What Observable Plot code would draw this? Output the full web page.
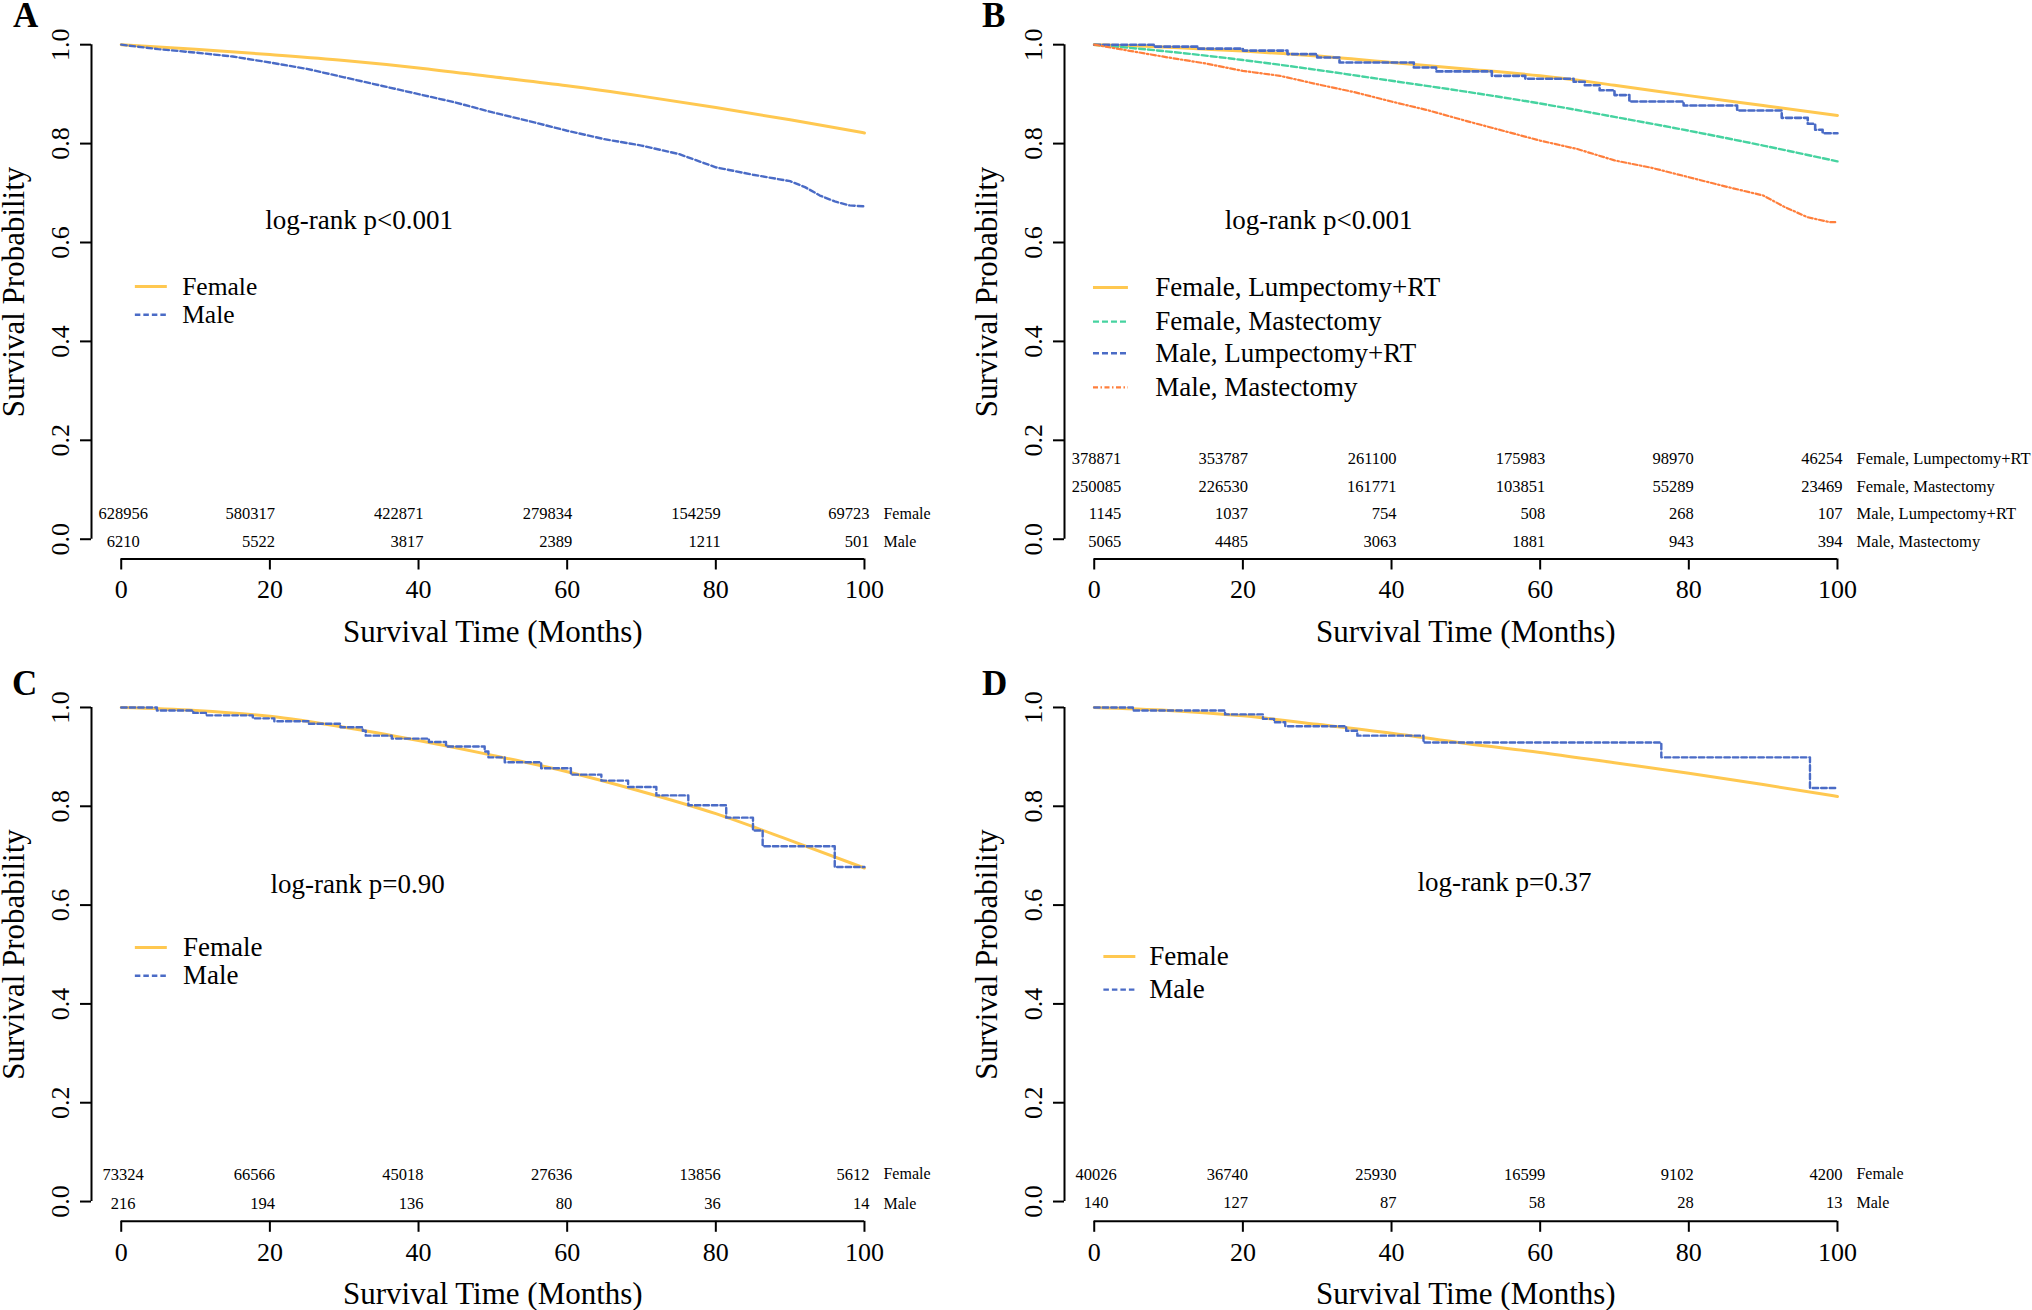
<!DOCTYPE html>
<html>
<head>
<meta charset="utf-8">
<script src="https://cdn.jsdelivr.net/npm/d3@7"></script>
<script src="https://cdn.jsdelivr.net/npm/@observablehq/plot@0.6"></script>
<style>
  html, body { margin: 0; padding: 0; background: #fff; }
  body { width: 2032px; height: 1310px; position: relative; overflow: hidden;
         font-family: "Liberation Serif", "Times New Roman", serif; color: #000; }
  .panel { position: absolute; }
  .tag { position: absolute; font-weight: bold; font-size: 35px; line-height: 35px;
         font-family: "Liberation Serif", "Times New Roman", serif; }
</style>
</head>
<body>
<script>
// ---------------- shared axes ----------------
const xTicks = [0, 20, 40, 60, 80, 100];
const yTicks = [0, 0.2, 0.4, 0.6, 0.8, 1.0];
const riskTimes = [0, 20, 40, 60, 80, 100];
const xDomain = [-4, 104];
const yDomain = [-0.04, 1.04];

// ---------------- Panel A: all patients, by sex ----------------
const aFemaleTime = [0, 10, 20, 30, 40, 50, 60, 70, 80, 90, 100];
const aFemaleSurv = [1.0, 0.991, 0.980, 0.968, 0.953, 0.935, 0.917, 0.896, 0.873, 0.848, 0.8215];
const aMaleTime = [0, 5, 10, 15, 20, 25, 30, 35, 40, 45, 50, 55, 60, 65, 70, 75, 80, 85, 90, 92, 94, 96, 98, 100];
const aMaleSurv = [1.0, 0.991, 0.984, 0.976, 0.964, 0.951, 0.934, 0.917, 0.900, 0.883, 0.863, 0.845, 0.826, 0.809, 0.796, 0.779, 0.752, 0.737, 0.724, 0.712, 0.695, 0.683, 0.675, 0.673];
const aRiskFemale = [628956, 580317, 422871, 279834, 154259, 69723];
const aRiskMale = [6210, 5522, 3817, 2389, 1211, 501];

// ---------------- Panel B: by sex and surgery ----------------
const bFemLumpTime = [0, 10, 20, 30, 40, 50, 60, 70, 80, 90, 100];
const bFemLumpSurv = [1.0, 0.995, 0.987, 0.977, 0.964, 0.951, 0.937, 0.918, 0.897, 0.877, 0.857];
const bFemMastTime = [0, 10, 20, 30, 40, 50, 60, 70, 80, 90, 100];
const bFemMastSurv = [1.0, 0.986, 0.969, 0.949, 0.927, 0.905, 0.881, 0.854, 0.826, 0.796, 0.764];
const bMaleLumpTime = [0, 8, 14, 20, 26, 30, 33, 43, 46, 53.5, 58, 64.5, 66, 68, 70, 72, 79.3, 86.5, 92.5, 96, 97, 98, 100];
const bMaleLumpSurv = [1.0, 0.996, 0.992, 0.988, 0.981, 0.974, 0.964, 0.954, 0.946, 0.937, 0.931, 0.925, 0.918, 0.908, 0.898, 0.885, 0.877, 0.867, 0.852, 0.840, 0.828, 0.821, 0.821];
const bMaleMastTime = [0, 5, 10, 15, 20, 25, 30, 35, 40, 45, 50, 55, 60, 65, 70, 75, 80, 85, 90, 93, 96, 99, 100];
const bMaleMastSurv = [1.0, 0.987, 0.974, 0.962, 0.947, 0.937, 0.920, 0.904, 0.885, 0.867, 0.846, 0.826, 0.806, 0.789, 0.766, 0.751, 0.732, 0.713, 0.695, 0.671, 0.651, 0.641, 0.641];
const bRiskFemLump = [378871, 353787, 261100, 175983, 98970, 46254];
const bRiskFemMast = [250085, 226530, 161771, 103851, 55289, 23469];
const bRiskMaleLump = [1145, 1037, 754, 508, 268, 107];
const bRiskMaleMast = [5065, 4485, 3063, 1881, 943, 394];

// ---------------- Panel C ----------------
const cFemaleTime = [0, 10, 20, 30, 40, 50, 60, 70, 80, 90, 100];
const cFemaleSurv = [1.0, 0.994, 0.982, 0.960, 0.933, 0.903, 0.870, 0.830, 0.785, 0.731, 0.675];
const cMaleTime = [0, 4.8, 9.7, 11.4, 17.7, 20.6, 25.2, 29.5, 32.5, 32.9, 36.4, 41.4, 43.7, 48.9, 49.4, 51.6, 56.5, 60.5, 64.6, 68.2, 72.0, 76.3, 81.4, 85.0, 86.3, 96.0, 100];
const cMaleSurv = [1.0, 0.994, 0.989, 0.984, 0.978, 0.972, 0.967, 0.960, 0.953, 0.943, 0.937, 0.930, 0.921, 0.911, 0.899, 0.889, 0.877, 0.864, 0.852, 0.839, 0.822, 0.802, 0.777, 0.751, 0.719, 0.677, 0.677];
const cRiskFemale = [73324, 66566, 45018, 27636, 13856, 5612];
const cRiskMale = [216, 194, 136, 80, 36, 14];

// ---------------- Panel D ----------------
const dFemaleTime = [0, 10, 20, 30, 40, 50, 60, 70, 80, 90, 100];
const dFemaleSurv = [1.0, 0.994, 0.983, 0.966, 0.948, 0.927, 0.909, 0.888, 0.867, 0.844, 0.820];
const dMaleTime = [0, 5.2, 17.6, 22.7, 24.2, 25.7, 33.9, 35.4, 44.3, 76.3, 96.3, 100];
const dMaleSurv = [1.0, 0.994, 0.986, 0.977, 0.970, 0.962, 0.953, 0.943, 0.929, 0.899, 0.837, 0.837];
const dRiskFemale = [40026, 36740, 25930, 16599, 9102, 4200];
const dRiskMale = [140, 127, 87, 58, 28, 13];

// ---------------- styles ----------------
const STYLE = {
  female:   {stroke: "#FFC850", strokeWidth: 3,   dash: null,            curve: "monotone-x"},
  male:     {stroke: "#4A6BC6", strokeWidth: 2.4, dash: "5.5,3",         curve: "linear"},
  maleStep: {stroke: "#4A6BC6", strokeWidth: 2.4, dash: "5.5,3",         curve: "step-after"},
  femMast:  {stroke: "#46D3A0", strokeWidth: 2.4, dash: "6,3",           curve: "monotone-x"},
  maleLump: {stroke: "#4A6BC6", strokeWidth: 2.6, dash: "6,3",           curve: "step-after"},
  maleMast: {stroke: "#FF7F3C", strokeWidth: 2.2, dash: "5,2.5,1.5,2.5", curve: "linear"}
};

function rows(times, surv) { return times.map((t, i) => ({t, s: surv[i]})); }

function makePanel(cfg) {
  const marks = [];
  // axis lines (R style: detached)
  marks.push(Plot.ruleY([yDomain[0]], {x1: 0, x2: 100, stroke: "#000", strokeWidth: 2}));
  marks.push(Plot.ruleX([xDomain[0]], {y1: 0, y2: 1, stroke: "#000", strokeWidth: 2}));
  marks.push(Plot.axisX({ticks: xTicks, tickSize: 11, tickPadding: 10, fontSize: 26, label: null, strokeWidth: 2}));
  marks.push(Plot.axisY({ticks: yTicks, tickSize: 11, tickFormat: () => "", label: null, strokeWidth: 2}));
  marks.push(Plot.text(yTicks, {y: d => d, text: d => d.toFixed(1), frameAnchor: "left", dx: -31,
    rotate: -90, textAnchor: "middle", lineAnchor: "middle", fontSize: 26}));
  // axis titles
  marks.push(Plot.text(["Survival Time (Months)"], {x: 50, frameAnchor: "bottom", dy: 73,
    textAnchor: "middle", lineAnchor: "middle", fontSize: 31}));
  marks.push(Plot.text(["Survival Probability"], {y: 0.5, frameAnchor: "left", dx: -77, rotate: -90,
    textAnchor: "middle", lineAnchor: "middle", fontSize: 31}));
  // curves
  for (const s of cfg.series) {
    const st = STYLE[s.style];
    marks.push(Plot.line(rows(s.time, s.surv), {
      x: "t", y: "s", stroke: st.stroke, strokeWidth: st.strokeWidth,
      strokeDasharray: st.dash, curve: st.curve
    }));
  }
  // log-rank annotation
  marks.push(Plot.text([cfg.logrank], {x: cfg.logrankX, y: cfg.logrankY, fontSize: 27}));
  // legend
  cfg.series.forEach((s, i) => {
    const st = STYLE[s.style];
    const ly = cfg.legendY[i];
    marks.push(Plot.ruleY([ly], {x1: cfg.legendX1, x2: cfg.legendX2, stroke: st.stroke,
      strokeWidth: st.strokeWidth, strokeDasharray: st.dash}));
    marks.push(Plot.text([s.name], {x: cfg.legendTextX, y: ly, textAnchor: "start", fontSize: cfg.legendFont}));
  });
  // numbers at risk
  cfg.risk.forEach((r, i) => {
    const ry = cfg.riskY[i];
    marks.push(Plot.text([r.counts[0]], {x: 0, y: ry, text: d => String(d), textAnchor: cfg.firstAnchor, dx: cfg.firstDx, fontSize: 16.5}));
    marks.push(Plot.text(r.counts.slice(1).map((n, k) => ({t: riskTimes[k + 1], n})),
      {x: "t", y: ry, text: d => String(d.n), textAnchor: "end", dx: 5, fontSize: 16.5}));
    marks.push(Plot.text([r.label], {x: 100, y: ry, textAnchor: "start", dx: 19, fontSize: cfg.riskLabelFont}));
  });

  const svg = Plot.plot({
    width: cfg.width, height: cfg.height,
    marginLeft: cfg.marginLeft, marginRight: cfg.marginRight,
    marginTop: cfg.marginTop, marginBottom: cfg.marginBottom,
    x: {domain: xDomain, label: null},
    y: {domain: yDomain, label: null},
    style: {fontFamily: "'Liberation Serif', 'Times New Roman', serif", fontSize: "16px",
            background: "transparent", color: "#000", overflow: "visible"},
    marks
  });
  const div = document.createElement("div");
  div.className = "panel";
  div.style.left = cfg.left + "px";
  div.style.top = cfg.top + "px";
  div.appendChild(svg);
  document.body.appendChild(div);

  const tag = document.createElement("div");
  tag.className = "tag";
  tag.textContent = cfg.tag;
  tag.style.left = cfg.tagX + "px";
  tag.style.top = cfg.tagY + "px";
  document.body.appendChild(tag);
}

const leftGeom  = {left: 0,   width: 1000, marginLeft: 91, marginRight: 106.3, firstAnchor: "middle", firstDx: 2};
const rightGeom = {left: 970, width: 1062, marginLeft: 94, marginRight: 165.3};
const topGeom   = {top: 0,   height: 655, marginTop: 24.4, marginBottom: 96.5};
const botGeom   = {top: 655, height: 655, marginTop: 32.2, marginBottom: 89.2};

makePanel({
  ...leftGeom, ...topGeom, tag: "A", tagX: 13, tagY: -2,
  series: [
    {name: "Female", style: "female", time: aFemaleTime, surv: aFemaleSurv},
    {name: "Male", style: "male", time: aMaleTime, surv: aMaleSurv}
  ],
  logrank: "log-rank p<0.001", logrankX: 32, logrankY: 0.645,
  legendX1: 1.9, legendX2: 6.2, legendTextX: 8.2, legendY: [0.511, 0.454], legendFont: 25.5,
  risk: [{label: "Female", counts: aRiskFemale}, {label: "Male", counts: aRiskMale}],
  riskY: [0.052, -0.005], riskLabelFont: 16
});

makePanel({
  ...rightGeom, ...topGeom, tag: "B", tagX: 982, tagY: -2,
  firstAnchor: "end", firstDx: 27,
  series: [
    {name: "Female, Lumpectomy+RT", style: "female", time: bFemLumpTime, surv: bFemLumpSurv},
    {name: "Female, Mastectomy", style: "femMast", time: bFemMastTime, surv: bFemMastSurv},
    {name: "Male, Lumpectomy+RT", style: "maleLump", time: bMaleLumpTime, surv: bMaleLumpSurv},
    {name: "Male, Mastectomy", style: "maleMast", time: bMaleMastTime, surv: bMaleMastSurv}
  ],
  logrank: "log-rank p<0.001", logrankX: 30.2, logrankY: 0.645,
  legendX1: -0.1, legendX2: 4.6, legendTextX: 8.2, legendY: [0.509, 0.440, 0.376, 0.307], legendFont: 27,
  risk: [
    {label: "Female, Lumpectomy+RT", counts: bRiskFemLump},
    {label: "Female, Mastectomy", counts: bRiskFemMast},
    {label: "Male, Lumpectomy+RT", counts: bRiskMaleLump},
    {label: "Male, Mastectomy", counts: bRiskMaleMast}
  ],
  riskY: [0.163, 0.107, 0.052, -0.005], riskLabelFont: 16.5
});

makePanel({
  ...leftGeom, ...botGeom, tag: "C", tagX: 12, tagY: 666,
  series: [
    {name: "Female", style: "female", time: cFemaleTime, surv: cFemaleSurv},
    {name: "Male", style: "maleStep", time: cMaleTime, surv: cMaleSurv}
  ],
  logrank: "log-rank p=0.90", logrankX: 31.8, logrankY: 0.642,
  legendX1: 1.9, legendX2: 6.2, legendTextX: 8.3, legendY: [0.514, 0.457], legendFont: 27,
  risk: [{label: "Female", counts: cRiskFemale}, {label: "Male", counts: cRiskMale}],
  riskY: [0.055, -0.004], riskLabelFont: 16
});

makePanel({
  ...rightGeom, ...botGeom, tag: "D", tagX: 982, tagY: 666,
  firstAnchor: "middle", firstDx: 2,
  series: [
    {name: "Female", style: "female", time: dFemaleTime, surv: dFemaleSurv},
    {name: "Male", style: "maleStep", time: dMaleTime, surv: dMaleSurv}
  ],
  logrank: "log-rank p=0.37", logrankX: 55.2, logrankY: 0.646,
  legendX1: 1.3, legendX2: 5.6, legendTextX: 7.4, legendY: [0.496, 0.429], legendFont: 27,
  risk: [{label: "Female", counts: dRiskFemale}, {label: "Male", counts: dRiskMale}],
  riskY: [0.055, -0.003], riskLabelFont: 16
});
</script>
</body>
</html>
